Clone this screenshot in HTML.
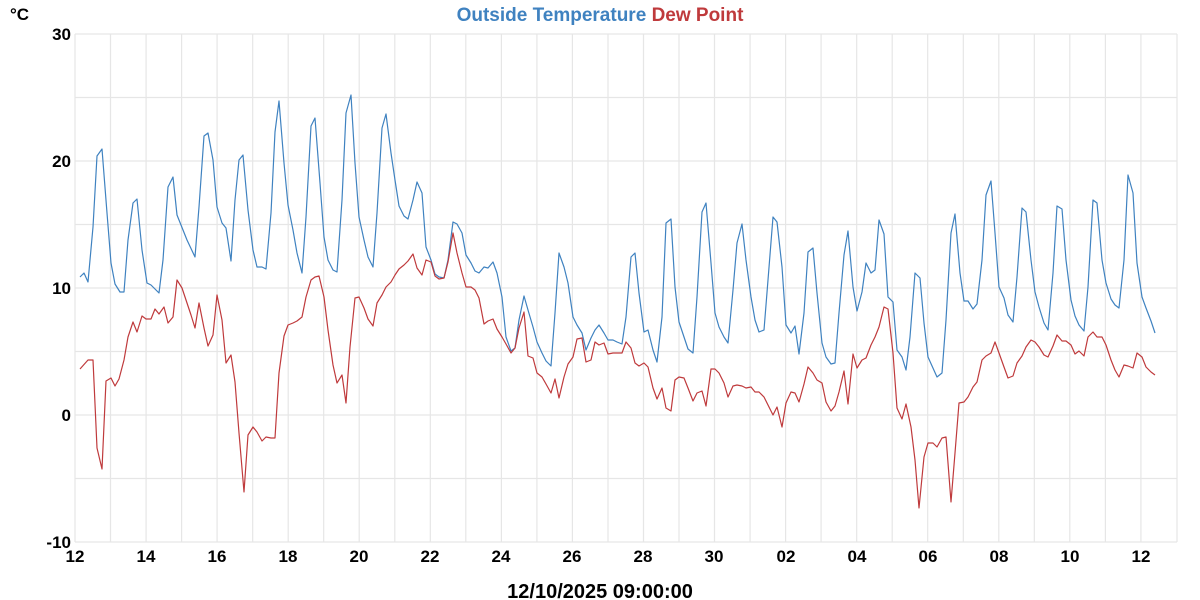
<!DOCTYPE html>
<html><head><meta charset="utf-8"><style>
html,body{margin:0;padding:0;background:#fff;width:1200px;height:600px;overflow:hidden}
svg{display:block;font-family:"Liberation Sans","DejaVu Sans",sans-serif;font-weight:bold}
</style></head><body>
<svg width="1200" height="600" viewBox="0 0 1200 600" xmlns="http://www.w3.org/2000/svg">
<g stroke="#e6e6e6" stroke-width="1.2">
<line x1="75" y1="34" x2="1177" y2="34"/><line x1="75" y1="97.5" x2="1177" y2="97.5"/><line x1="75" y1="161" x2="1177" y2="161"/><line x1="75" y1="224.5" x2="1177" y2="224.5"/><line x1="75" y1="288" x2="1177" y2="288"/><line x1="75" y1="351.5" x2="1177" y2="351.5"/><line x1="75" y1="415" x2="1177" y2="415"/><line x1="75" y1="478.5" x2="1177" y2="478.5"/><line x1="75" y1="542" x2="1177" y2="542"/>
</g>
<g stroke="#e6e6e6" stroke-width="1.2">
<line x1="75" y1="34" x2="75" y2="542"/><line x1="110.5" y1="34" x2="110.5" y2="542"/><line x1="146.1" y1="34" x2="146.1" y2="542"/><line x1="181.6" y1="34" x2="181.6" y2="542"/><line x1="217.1" y1="34" x2="217.1" y2="542"/><line x1="252.7" y1="34" x2="252.7" y2="542"/><line x1="288.2" y1="34" x2="288.2" y2="542"/><line x1="323.7" y1="34" x2="323.7" y2="542"/><line x1="359.2" y1="34" x2="359.2" y2="542"/><line x1="394.8" y1="34" x2="394.8" y2="542"/><line x1="430.3" y1="34" x2="430.3" y2="542"/><line x1="465.8" y1="34" x2="465.8" y2="542"/><line x1="501.4" y1="34" x2="501.4" y2="542"/><line x1="536.9" y1="34" x2="536.9" y2="542"/><line x1="572.4" y1="34" x2="572.4" y2="542"/><line x1="608" y1="34" x2="608" y2="542"/><line x1="643.5" y1="34" x2="643.5" y2="542"/><line x1="679" y1="34" x2="679" y2="542"/><line x1="714.5" y1="34" x2="714.5" y2="542"/><line x1="750.1" y1="34" x2="750.1" y2="542"/><line x1="785.6" y1="34" x2="785.6" y2="542"/><line x1="821.1" y1="34" x2="821.1" y2="542"/><line x1="856.7" y1="34" x2="856.7" y2="542"/><line x1="892.2" y1="34" x2="892.2" y2="542"/><line x1="927.7" y1="34" x2="927.7" y2="542"/><line x1="963.3" y1="34" x2="963.3" y2="542"/><line x1="998.8" y1="34" x2="998.8" y2="542"/><line x1="1034.3" y1="34" x2="1034.3" y2="542"/><line x1="1069.8" y1="34" x2="1069.8" y2="542"/><line x1="1105.4" y1="34" x2="1105.4" y2="542"/><line x1="1140.9" y1="34" x2="1140.9" y2="542"/><line x1="1177" y1="34" x2="1177" y2="542"/>
</g>
<g font-size="17" fill="#000" text-anchor="end">
<text x="71" y="40">30</text><text x="71" y="167">20</text><text x="71" y="294">10</text><text x="71" y="421">0</text><text x="71" y="548">-10</text>
</g>
<g font-size="17" fill="#000" text-anchor="middle">
<text x="75" y="562">12</text><text x="146" y="562">14</text><text x="217" y="562">16</text><text x="288" y="562">18</text><text x="359" y="562">20</text><text x="430" y="562">22</text><text x="501" y="562">24</text><text x="572" y="562">26</text><text x="643" y="562">28</text><text x="714" y="562">30</text><text x="786" y="562">02</text><text x="857" y="562">04</text><text x="928" y="562">06</text><text x="999" y="562">08</text><text x="1070" y="562">10</text><text x="1141" y="562">12</text>
</g>
<text x="10" y="20" font-size="17">°C</text>
<text x="600" y="21" font-size="19" text-anchor="middle"><tspan fill="#3f82c0">Outside Temperature</tspan> <tspan fill="#bf3a3c">Dew Point</tspan></text>
<text x="600" y="598" font-size="20" text-anchor="middle">12/10/2025 09:00:00</text>
<polyline fill="none" stroke="#3f82c0" stroke-width="1.2" stroke-linejoin="round" points="80,277 84,273 88,282 93,227 97,156 102,149 107,213 111,263 115,284 120,292 124,292 128,240 133,203 137,199 142,250 147,283 151,285 159,293 163,260 168,187 173,177 177,215 187,240 195,257 199,207 204,136 208,133 213,160 217,207 222,223 226,228 231,261 235,200 239,160 243,155 248,210 253,250 257,267 262,267 266,269 271,213 275,132 279,101 284,163 288,205 293,230 297,253 302,273 306,217 311,126 315,118 320,183 324,237 328,260 333,270 337,272 342,200 346,113 351,95 355,163 359,217 364,240 368,257 373,267 377,213 382,128 386,114 391,153 395,180 399,206 404,216 408,219 413,200 417,182 422,193 426,247 431,260 435,274 439,277 444,278 448,260 453,222 457,224 462,233 466,255 471,263 475,271 479,273 484,267 488,268 493,262 497,273 502,297 506,337 511,351 515,348 519,320 524,296 528,310 533,327 537,342 542,353 546,361 551,366 555,313 559,253 564,267 568,283 573,317 577,325 582,333 586,350 591,338 595,330 599,325 604,333 608,340 613,340 617,342 622,344 626,317 631,257 635,253 639,293 644,332 648,330 653,350 657,362 662,317 666,223 671,219 675,287 679,322 684,337 688,349 693,353 697,297 702,212 706,203 711,263 715,313 719,327 724,337 728,343 733,290 737,243 742,224 746,260 751,297 755,320 759,332 764,330 768,280 773,217 777,222 782,267 786,325 791,333 795,326 799,354 804,313 808,252 813,248 817,293 822,343 826,357 831,364 835,363 839,313 844,255 848,231 853,287 857,311 862,292 866,263 871,273 875,270 879,220 884,234 888,297 893,302 897,350 902,357 906,370 910,337 915,273 920,278 924,323 928,357 937,377 942,373 946,320 951,233 955,214 960,273 964,301 968,301 973,309 977,304 982,260 986,195 991,181 995,233 999,287 1004,298 1008,315 1013,322 1017,277 1022,208 1026,212 1031,260 1035,292 1039,307 1044,323 1048,330 1053,273 1057,206 1062,209 1066,260 1071,300 1075,316 1079,325 1084,331 1088,287 1093,200 1097,203 1102,260 1106,283 1111,299 1115,305 1119,308 1124,260 1128,175 1133,193 1137,263 1142,297 1146,308 1151,321 1155,333"/>
<polyline fill="none" stroke="#bf3a3c" stroke-width="1.2" stroke-linejoin="round" points="80,369 88,360 93,360 97,448 102,469 106,381 111,378 115,386 119,379 124,360 128,337 133,322 137,332 142,316 146,319 151,319 155,309 159,314 164,307 168,323 173,317 177,280 182,288 186,300 191,315 195,328 199,303 204,328 208,346 213,335 217,295 222,320 226,363 231,355 235,382 239,433 244,492 248,435 253,427 257,432 262,441 266,437 271,438 275,438 279,373 284,336 288,325 293,323 297,321 302,317 306,297 311,280 315,277 319,276 324,297 328,330 333,365 337,383 342,375 346,403 350,347 355,298 359,297 364,308 368,319 373,326 377,303 382,295 386,287 391,282 395,275 399,269 404,265 408,261 413,254 417,268 422,275 426,260 431,262 435,276 439,279 444,278 448,262 453,233 457,253 462,273 466,287 471,287 475,290 479,298 484,324 488,321 493,319 497,329 502,337 506,344 511,353 515,348 519,328 524,312 528,356 533,358 537,373 542,377 546,384 551,393 555,379 559,398 564,377 568,364 573,357 577,339 582,338 586,362 591,360 595,342 599,345 604,343 608,354 613,353 622,353 626,342 631,348 635,363 639,366 644,363 648,367 653,388 657,399 662,388 666,408 671,411 675,380 679,377 684,378 688,388 693,401 697,393 702,391 706,406 711,369 715,369 719,373 724,383 728,397 733,386 737,385 742,386 746,388 751,387 755,392 759,392 764,397 768,405 773,415 777,407 782,427 786,403 791,392 795,393 799,402 804,384 808,367 813,373 817,380 822,383 826,402 831,411 835,406 839,392 844,371 848,404 853,354 857,368 862,360 866,358 871,345 875,337 879,327 884,307 888,309 893,353 897,408 902,419 906,404 911,427 915,460 919,508 924,457 928,443 933,443 937,447 942,438 946,437 951,502 955,453 959,403 964,402 968,397 973,387 977,382 982,360 986,356 991,353 995,342 999,353 1004,367 1008,378 1013,376 1017,363 1022,356 1026,347 1031,340 1035,342 1039,347 1044,355 1048,357 1053,346 1057,335 1062,341 1066,341 1071,345 1075,354 1079,351 1084,356 1088,337 1093,332 1097,337 1102,337 1106,345 1111,360 1115,370 1119,377 1124,365 1128,366 1133,368 1137,353 1142,357 1146,367 1151,372 1155,375"/>
</svg>
</body></html>
